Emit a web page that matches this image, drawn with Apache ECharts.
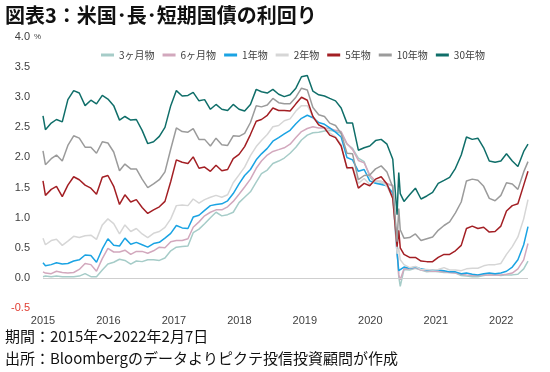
<!DOCTYPE html>
<html><head><meta charset="utf-8">
<script src="https://cdn.jsdelivr.net/npm/echarts@6/dist/echarts.min.js"></script>
<style>html,body{margin:0;padding:0;background:#fff;}#c{width:550px;height:372px;}</style>
</head><body><div id="c"></div>
<script>
// Observation dates (monthly points, plus detail around March 2020)
const dates = ['2015-01-02',
 '2015-01','2015-02','2015-03','2015-04','2015-05','2015-06','2015-07','2015-08','2015-09','2015-10','2015-11','2015-12',
 '2016-01','2016-02','2016-03','2016-04','2016-05','2016-06','2016-07','2016-08','2016-09','2016-10','2016-11','2016-12',
 '2017-01','2017-02','2017-03','2017-04','2017-05','2017-06','2017-07','2017-08','2017-09','2017-10','2017-11','2017-12',
 '2018-01','2018-02','2018-03','2018-04','2018-05','2018-06','2018-07','2018-08','2018-09','2018-10','2018-11','2018-12',
 '2019-01','2019-02','2019-03','2019-04','2019-05','2019-06','2019-07','2019-08','2019-09','2019-10','2019-11','2019-12',
 '2020-01','2020-02','2020-03-09','2020-03-18','2020-03-26','2020-04','2020-05','2020-06','2020-07','2020-08','2020-09','2020-10','2020-11','2020-12',
 '2021-01','2021-02','2021-03','2021-04','2021-05','2021-06','2021-07','2021-08','2021-09','2021-10','2021-11','2021-12',
 '2022-01','2022-02-07'];

const y3m = [0.02,
 0.03,0.02,0.03,0.02,0.02,0.02,0.03,0.07,0.02,0.02,0.13,0.23,
 0.26,0.31,0.29,0.23,0.28,0.27,0.30,0.30,0.29,0.33,0.45,0.51,
 0.52,0.53,0.75,0.81,0.90,1.00,1.09,1.03,1.05,1.09,1.25,1.34,
 1.43,1.59,1.73,1.79,1.90,1.94,1.99,2.07,2.17,2.29,2.37,2.41,
 2.42,2.44,2.45,2.43,2.40,2.22,2.15,1.99,1.93,1.68,1.57,1.57,
 1.55,1.54,0.50,0.02,-0.14,0.14,0.13,0.16,0.13,0.10,0.11,0.10,0.09,0.09,
 0.08,0.04,0.03,0.02,0.02,0.04,0.05,0.05,0.04,0.05,0.05,0.06,
 0.15,0.28];
const y6m = [0.10,
 0.08,0.07,0.11,0.09,0.08,0.09,0.14,0.24,0.22,0.11,0.32,0.49,
 0.43,0.43,0.46,0.39,0.44,0.44,0.41,0.45,0.51,0.50,0.60,0.62,
 0.62,0.65,0.84,0.93,1.03,1.09,1.13,1.13,1.18,1.27,1.39,1.51,
 1.64,1.82,1.94,2.04,2.10,2.13,2.16,2.22,2.33,2.43,2.48,2.51,
 2.49,2.49,2.48,2.45,2.43,2.23,2.13,1.95,1.91,1.71,1.61,1.60,
 1.57,1.53,0.48,0.05,-0.03,0.15,0.15,0.17,0.13,0.12,0.11,0.11,0.10,0.09,
 0.08,0.06,0.05,0.04,0.04,0.05,0.05,0.05,0.05,0.06,0.08,0.15,
 0.30,0.57];
const y1y = [0.25,
 0.20,0.22,0.25,0.23,0.24,0.28,0.30,0.38,0.37,0.26,0.48,0.65,
 0.54,0.53,0.66,0.56,0.59,0.55,0.51,0.57,0.59,0.66,0.74,0.87,
 0.83,0.82,1.01,1.04,1.12,1.20,1.22,1.23,1.28,1.40,1.56,1.70,
 1.80,1.96,2.06,2.15,2.27,2.33,2.39,2.45,2.56,2.65,2.70,2.66,
 2.58,2.55,2.49,2.42,2.34,2.00,1.96,1.77,1.80,1.61,1.57,1.55,
 1.53,1.41,0.40,0.12,0.11,0.18,0.16,0.18,0.15,0.13,0.13,0.13,0.12,0.10,
 0.10,0.07,0.08,0.06,0.05,0.07,0.08,0.07,0.08,0.11,0.18,0.30,
 0.55,0.85];
const y2y = [0.66,
 0.55,0.62,0.64,0.54,0.61,0.69,0.67,0.70,0.71,0.64,0.88,0.98,
 0.90,0.73,0.88,0.77,0.82,0.73,0.67,0.74,0.77,0.84,0.98,1.20,
 1.21,1.20,1.31,1.24,1.30,1.34,1.37,1.34,1.38,1.58,1.71,1.84,
 2.03,2.18,2.28,2.38,2.51,2.53,2.61,2.64,2.77,2.86,2.86,2.68,
 2.54,2.50,2.41,2.34,2.21,1.81,1.84,1.57,1.65,1.55,1.61,1.61,
 1.52,1.33,0.40,0.50,0.30,0.22,0.17,0.19,0.14,0.14,0.13,0.14,0.17,0.13,
 0.13,0.12,0.15,0.16,0.16,0.20,0.22,0.22,0.24,0.39,0.52,0.68,
 0.98,1.30];
const y5y = [1.61,
 1.37,1.47,1.52,1.35,1.54,1.68,1.63,1.54,1.49,1.39,1.67,1.70,
 1.52,1.22,1.38,1.26,1.30,1.17,1.07,1.13,1.18,1.27,1.60,1.96,
 1.92,1.90,2.01,1.82,1.84,1.77,1.87,1.78,1.80,1.98,2.05,2.18,
 2.38,2.60,2.63,2.70,2.82,2.78,2.78,2.77,2.89,3.00,2.95,2.68,
 2.54,2.49,2.37,2.33,2.19,1.83,1.83,1.49,1.57,1.53,1.64,1.68,
 1.56,1.32,0.52,0.79,0.50,0.39,0.34,0.34,0.28,0.27,0.27,0.34,0.39,0.39,
 0.45,0.54,0.82,0.86,0.82,0.84,0.76,0.77,0.86,1.11,1.20,1.23,
 1.54,1.77];
const y10y = [2.11,
 1.88,1.98,2.04,1.94,2.20,2.36,2.32,2.17,2.17,2.07,2.26,2.24,
 2.09,1.78,1.89,1.81,1.81,1.64,1.50,1.56,1.63,1.76,2.14,2.49,
 2.43,2.42,2.48,2.30,2.30,2.19,2.32,2.21,2.20,2.36,2.35,2.40,
 2.58,2.86,2.84,2.87,2.98,2.91,2.89,2.89,3.00,3.15,3.12,2.83,
 2.71,2.68,2.57,2.53,2.40,2.07,2.06,1.63,1.70,1.71,1.81,1.86,
 1.76,1.50,0.60,1.15,0.80,0.66,0.67,0.73,0.62,0.65,0.68,0.79,0.87,0.93,
 1.08,1.26,1.61,1.64,1.62,1.52,1.32,1.28,1.37,1.58,1.56,1.47,
 1.76,1.93];
const y30y = [2.69,
 2.46,2.57,2.63,2.59,2.96,3.11,3.07,2.86,2.95,2.89,3.03,2.97,
 2.86,2.62,2.68,2.62,2.63,2.45,2.23,2.26,2.35,2.50,2.86,3.11,
 3.02,3.03,3.08,2.94,2.96,2.80,2.88,2.80,2.78,2.88,2.80,2.77,
 2.88,3.13,3.09,3.07,3.13,3.05,3.01,3.04,3.15,3.34,3.36,3.10,
 3.04,3.02,2.98,2.94,2.82,2.57,2.57,2.12,2.16,2.19,2.28,2.30,
 2.22,1.97,1.05,1.75,1.40,1.27,1.38,1.49,1.31,1.36,1.42,1.57,1.62,1.67,
 1.82,2.04,2.34,2.30,2.32,2.16,1.94,1.92,1.94,2.06,1.94,1.85,
 2.10,2.22];

const seriesNames = ['3ヶ月物','6ヶ月物','1年物','2年物','5年物','10年物','30年物'];
const seriesColors = ['#A6CCC8','#D2A8BD','#1AA3E3','#D6D6D6','#A31F24','#9B9B9B','#0F6E69'];
const yearLabels = ['2015','2016','2017','2018','2019','2020','2021','2022'];
const yTicks = ['-0.5','0.0','0.5','1.0','1.5','2.0','2.5','3.0','3.5','4.0'];

// convert dates to days since the first observation
const origin = Date.UTC(2015,0,2);
function dayPos(s){
  const p = s.split('-').map(Number);
  const d = p.length === 3 ? p[2] : 15;
  return (Date.UTC(p[0], p[1]-1, d) - origin) / 86400000;
}
const xs = dates.map(dayPos);
const xMax = xs[xs.length-1];
const labelStep = 350;

const allVals = [y3m,y6m,y1y,y2y,y5y,y10y,y30y];
const series = allVals.map((vals,i)=>({
  name: seriesNames[i], type:'line', showSymbol:false, symbol:'none',
  data: vals.map((v,j)=>[xs[j], v]),
  lineStyle:{width:1.5, color:seriesColors[i]}, itemStyle:{color:seriesColors[i]},
  animation:false, z: 2+i
}));
series[0].markLine = {silent:true, symbol:'none', label:{show:false},
  lineStyle:{color:'#CFCFCF', width:1, type:'solid'}, data:[{yAxis:0}], animation:false};

const chart = echarts.init(document.getElementById('c'), null, {renderer:'canvas'});
chart.setOption({
  animation:false,
  backgroundColor:'#fff',
  grid:{left:43, right:22, top:37, bottom:64},
  legend:{left:96, top:45, icon:'rect', itemWidth:13, itemHeight:3, itemGap:8,
    textStyle:{fontSize:10, color:'#404040', fontFamily:'Noto Sans CJK JP'}, data:seriesNames},
  xAxis:{type:'value', min:0, max:xMax, interval:labelStep,
    axisLine:{show:false}, axisTick:{show:false}, splitLine:{show:false},
    axisLabel:{fontSize:11, color:'#404040', margin:7, fontFamily:'Liberation Sans',
      formatter:(v)=>{const k=Math.round(v/labelStep); return Math.abs(v-k*labelStep)<1 && yearLabels[k] ? yearLabels[k] : '';}}},
  yAxis:{type:'value', min:-0.5, max:4.0, interval:0.5,
    axisLine:{show:false}, axisTick:{show:false}, splitLine:{show:false},
    axisLabel:{fontSize:11, margin:13, fontFamily:'Liberation Sans',
      formatter:(v)=>{const k=Math.round((v+0.5)/0.5); return yTicks[k];},
      color:(v)=> v<0 ? '#E03C31' : '#404040'}},
  graphic:[
    {type:'text', left:5, top:5, style:{text:'図表3：米国･長･短期国債の利回り', font:'bold 20px "Noto Sans CJK JP"', fill:'#111'}},
    {type:'text', left:34, top:33, style:{text:'%', font:'8px "Liberation Sans"', fill:'#404040'}},
    {type:'text', left:5, top:329, style:{text:'期間：2015年～2022年2月7日', font:'15px "Noto Sans CJK JP"', fill:'#111'}},
    {type:'text', left:5, top:351, style:{text:'出所：Bloombergのデータよりピクテ投信投資顧問が作成', font:'15px "Noto Sans CJK JP"', fill:'#111'}}
  ],
  series
});
</script></body></html>
